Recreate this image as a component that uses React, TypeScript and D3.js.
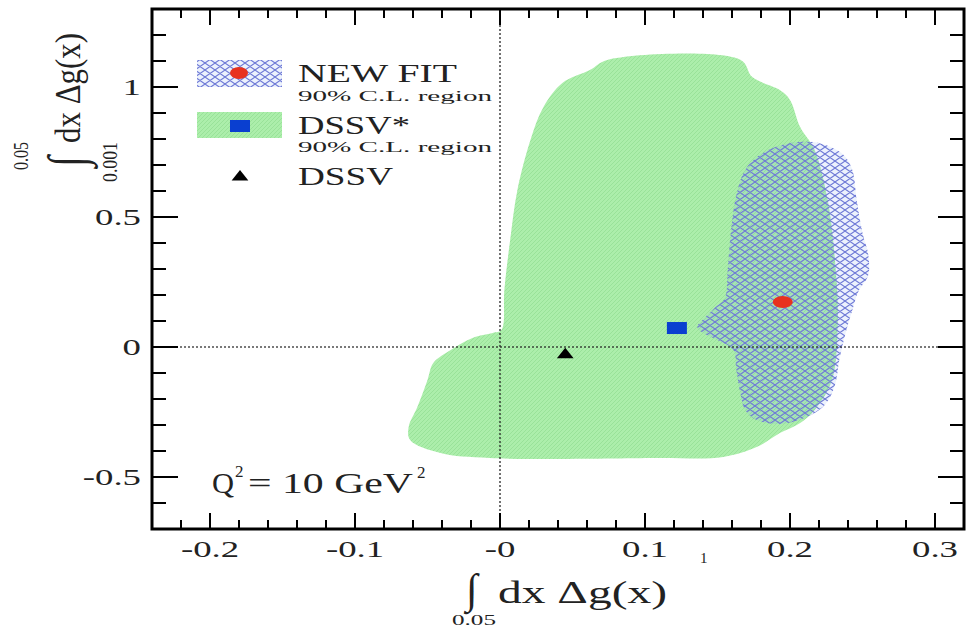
import React, { useEffect, useRef } from 'react';
import * as d3 from 'd3';

// contours, [x, y] in data units
const newFitRegion = [
  [0.200, 0.785], [0.216, 0.788], [0.228, 0.769], [0.237, 0.738], [0.243, 0.681],
  [0.246, 0.565], [0.250, 0.438], [0.254, 0.354], [0.254, 0.277], [0.247, 0.212],
  [0.243, 0.142], [0.238, 0.046], [0.234, -0.050], [0.231, -0.146], [0.224, -0.223],
  [0.210, -0.273], [0.193, -0.296], [0.177, -0.281], [0.169, -0.242], [0.166, -0.185],
  [0.163, -0.088], [0.161, -0.012], [0.150, 0.027], [0.140, 0.054], [0.136, 0.077],
  [0.141, 0.112], [0.148, 0.150], [0.155, 0.188], [0.157, 0.296], [0.159, 0.431],
  [0.163, 0.585], [0.169, 0.681], [0.179, 0.738], [0.190, 0.769]
];

const dssvStarRegion = [
  [0.062, 1.065], [0.074, 1.104], [0.166, 1.104], [0.174, 1.038], [0.193, 0.988],
  [0.200, 0.950], [0.207, 0.846], [0.217, 0.758], [0.226, 0.565], [0.231, 0.335],
  [0.233, 0.104], [0.229, -0.127], [0.217, -0.242], [0.207, -0.292], [0.193, -0.331],
  [0.177, -0.385], [0.154, -0.423], [0.108, -0.427], [-0.007, -0.427], [-0.041, -0.408],
  [-0.062, -0.358], [-0.063, -0.308], [-0.057, -0.231], [-0.050, -0.127], [-0.046, -0.062],
  [-0.034, -0.012], [-0.019, 0.035], [-0.005, 0.054], [0.001, 0.065], [0.003, 0.219],
  [0.007, 0.412], [0.012, 0.604], [0.021, 0.796], [0.030, 0.923], [0.043, 1.015]
];

const newFitPoint = [0.195, 0.173];
const dssvStarPoint = [0.122, 0.073];
const dssvPoint = [0.045, -0.03];

const xTicks = [-0.2, -0.1, 0, 0.1, 0.2, 0.3];
const xTickLabels = ["-0.2", "-0.1", "-0", "0.1", "0.2", "0.3"];
const yTicks = [-0.5, 0, 0.5, 1];
const yTickLabels = ["-0.5", "0", "0.5", "1"];

const font = "'Liberation Serif', 'Times New Roman', serif";

function App() {
  const width = 969;
  const height = 629;
  const ref = useRef(null);

  useEffect(() => {
    const x = d3.scaleLinear().domain([-0.24, 0.32]).range([152, 964]);
    const y = d3.scaleLinear().domain([-0.7, 1.3]).range([529, 9]);

    const svg = d3.create("svg")
      .attr("width", width)
      .attr("height", height)
      .attr("viewBox", [0, 0, width, height])
      .style("display", "block")
      .style("background", "#fff");

    const defs = svg.append("defs");
    const green = defs.append("pattern")
      .attr("id", "greenHatch")
      .attr("patternUnits", "userSpaceOnUse")
      .attr("width", 4).attr("height", 4);
    green.append("rect").attr("width", 4).attr("height", 4).attr("fill", "#aceeab");
    green.append("path").attr("d", "M0,4 L4,0").attr("stroke", "#94de94").attr("stroke-width", 0.8);

    const mesh = defs.append("pattern")
      .attr("id", "blueMesh")
      .attr("patternUnits", "userSpaceOnUse")
      .attr("width", 10).attr("height", 7);
    mesh.append("rect").attr("width", 10).attr("height", 7).attr("fill", "rgba(120,160,240,0.14)");
    mesh.append("path")
      .attr("d", "M0,3.5 L5,0 L10,3.5 L5,7 Z")
      .attr("fill", "none")
      .attr("stroke", "#6f7ad6")
      .attr("stroke-width", 1.1);

    const area = d3.line()
      .x(d => x(d[0]))
      .y(d => y(d[1]))
      .curve(d3.curveCatmullRomClosed.alpha(0.5));

    svg.append("path")
      .attr("d", area(dssvStarRegion))
      .attr("fill", "url(#greenHatch)");

    svg.append("path")
      .attr("d", area(newFitRegion))
      .attr("fill", "url(#blueMesh)");

    // zero lines
    svg.append("line")
      .attr("x1", x(0)).attr("x2", x(0))
      .attr("y1", y(1.3)).attr("y2", y(-0.7))
      .attr("stroke", "#222").attr("stroke-width", 1.6)
      .attr("stroke-dasharray", "2 2").attr("opacity", 0.8);
    svg.append("line")
      .attr("x1", x(-0.24)).attr("x2", x(0.32))
      .attr("y1", y(0)).attr("y2", y(0))
      .attr("stroke", "#222").attr("stroke-width", 1.6)
      .attr("stroke-dasharray", "2 2").attr("opacity", 0.8);

    // markers
    svg.append("ellipse")
      .attr("cx", x(newFitPoint[0])).attr("cy", y(newFitPoint[1]))
      .attr("rx", 10).attr("ry", 6).attr("fill", "#e8321e");
    svg.append("rect")
      .attr("x", x(dssvStarPoint[0]) - 10).attr("y", y(dssvStarPoint[1]) - 6)
      .attr("width", 20).attr("height", 12).attr("fill", "#0a3fd0");
    const tri = d3.symbol().type(d3.symbolTriangle).size(100);
    svg.append("path")
      .attr("d", tri())
      .attr("transform", `translate(${x(dssvPoint[0])},${y(dssvPoint[1])}) scale(1.1,0.8)`)
      .attr("fill", "#000");

    // frame and ticks
    const ticks = svg.append("g").attr("stroke", "#000").attr("stroke-width", 2);
    d3.range(-11, 16).forEach(i => {
      const major = i % 5 === 0;
      const len = major ? 16 : 9;
      const px = x(i * 0.02);
      ticks.append("line").attr("x1", px).attr("x2", px).attr("y1", y(-0.7)).attr("y2", y(-0.7) - len);
      ticks.append("line").attr("x1", px).attr("x2", px).attr("y1", y(1.3)).attr("y2", y(1.3) + len);
    });
    d3.range(-6, 13).forEach(i => {
      const major = i % 5 === 0;
      const len = major ? 26 : 14;
      const py = y(i / 10);
      ticks.append("line").attr("x1", x(-0.24)).attr("x2", x(-0.24) + len).attr("y1", py).attr("y2", py);
      ticks.append("line").attr("x1", x(0.32)).attr("x2", x(0.32) - len).attr("y1", py).attr("y2", py);
    });
    svg.append("rect")
      .attr("x", x(-0.24)).attr("y", y(1.3))
      .attr("width", x(0.32) - x(-0.24)).attr("height", y(-0.7) - y(1.3))
      .attr("fill", "none").attr("stroke", "#000").attr("stroke-width", 3);

    const txt = svg.append("g").attr("font-family", font).attr("fill", "#222");

    xTicks.forEach((t, i) => {
      txt.append("text")
        .attr("transform", `translate(${x(t)},557) scale(1.6,1)`)
        .attr("text-anchor", "middle")
        .attr("font-size", 23)
        .text(xTickLabels[i]);
    });
    yTicks.forEach((t, i) => {
      txt.append("text")
        .attr("transform", `translate(141,${y(t) + 8}) scale(1.6,1)`)
        .attr("text-anchor", "end")
        .attr("font-size", 23)
        .text(yTickLabels[i]);
    });

    // x title
    txt.append("text").attr("x", 466).attr("y", 603).attr("font-size", 42).text("∫");
    txt.append("text").attr("x", 498).attr("y", 603).attr("font-size", 32)
      .attr("textLength", 169).attr("lengthAdjust", "spacingAndGlyphs").text("dx Δg(x)");
    txt.append("text").attr("x", 452).attr("y", 625).attr("font-size", 14)
      .attr("textLength", 44).attr("lengthAdjust", "spacingAndGlyphs").text("0.05");
    txt.append("text").attr("x", 700).attr("y", 563).attr("font-size", 15).text("1");

    // y title, rotated
    const yt = txt.append("g").attr("transform", "translate(80,0) rotate(-90)");
    yt.append("text").attr("transform", "translate(-143,0) scale(1,1.3)")
      .attr("font-size", 28).attr("textLength", 110).attr("lengthAdjust", "spacingAndGlyphs")
      .text("dx Δg(x)");
    yt.append("text").attr("transform", "translate(-167,4) scale(1,1.3)")
      .attr("font-size", 40).text("∫");
    yt.append("text").attr("transform", "translate(-170,-52) scale(1,1.3)")
      .attr("font-size", 16).attr("textLength", 28).attr("lengthAdjust", "spacingAndGlyphs")
      .text("0.05");
    yt.append("text").attr("transform", "translate(-182,37) scale(1,1.3)")
      .attr("font-size", 16).attr("textLength", 40).attr("lengthAdjust", "spacingAndGlyphs")
      .text("0.001");

    // Q^2 annotation
    txt.append("text").attr("x", 212).attr("y", 493).attr("font-size", 30)
      .attr("textLength", 22).attr("lengthAdjust", "spacingAndGlyphs").text("Q");
    txt.append("text").attr("x", 235).attr("y", 477).attr("font-size", 17).text("2");
    txt.append("text").attr("x", 248).attr("y", 493).attr("font-size", 30)
      .attr("textLength", 165).attr("lengthAdjust", "spacingAndGlyphs").text("= 10 GeV");
    txt.append("text").attr("x", 417).attr("y", 478).attr("font-size", 17).text("2");

    // legend
    const lg = svg.append("g");
    lg.append("rect").attr("x", 197).attr("y", 60).attr("width", 85).attr("height", 27).attr("fill", "url(#blueMesh)");
    lg.append("ellipse").attr("cx", 239).attr("cy", 73).attr("rx", 9).attr("ry", 6).attr("fill", "#e8321e");
    lg.append("rect").attr("x", 197).attr("y", 112).attr("width", 85).attr("height", 26).attr("fill", "url(#greenHatch)");
    lg.append("rect").attr("x", 230).attr("y", 120).attr("width", 20).attr("height", 12).attr("fill", "#0a3fd0");
    lg.append("path").attr("d", tri()).attr("transform", "translate(240,177) scale(1.1,0.8)").attr("fill", "#000");

    const legendText = [
      { label: "NEW FIT", y: 82, size: 26, len: 159 },
      { label: "90% C.L. region", y: 101, size: 14, len: 194 },
      { label: "DSSV*", y: 134, size: 26, len: 112 },
      { label: "90% C.L. region", y: 152, size: 14, len: 194 },
      { label: "DSSV", y: 185, size: 26, len: 95 }
    ];
    legendText.forEach(d => {
      txt.append("text").attr("x", 298).attr("y", d.y).attr("font-size", d.size)
        .attr("textLength", d.len).attr("lengthAdjust", "spacingAndGlyphs").text(d.label);
    });

    const node = svg.node();
    if (ref.current) {
      ref.current.innerHTML = "";
      ref.current.appendChild(node);
    }
  }, []);

  return (
    <div ref={ref} style={{ position: "absolute", left: 0, top: 0 }}></div>
  );
}

export default App;
